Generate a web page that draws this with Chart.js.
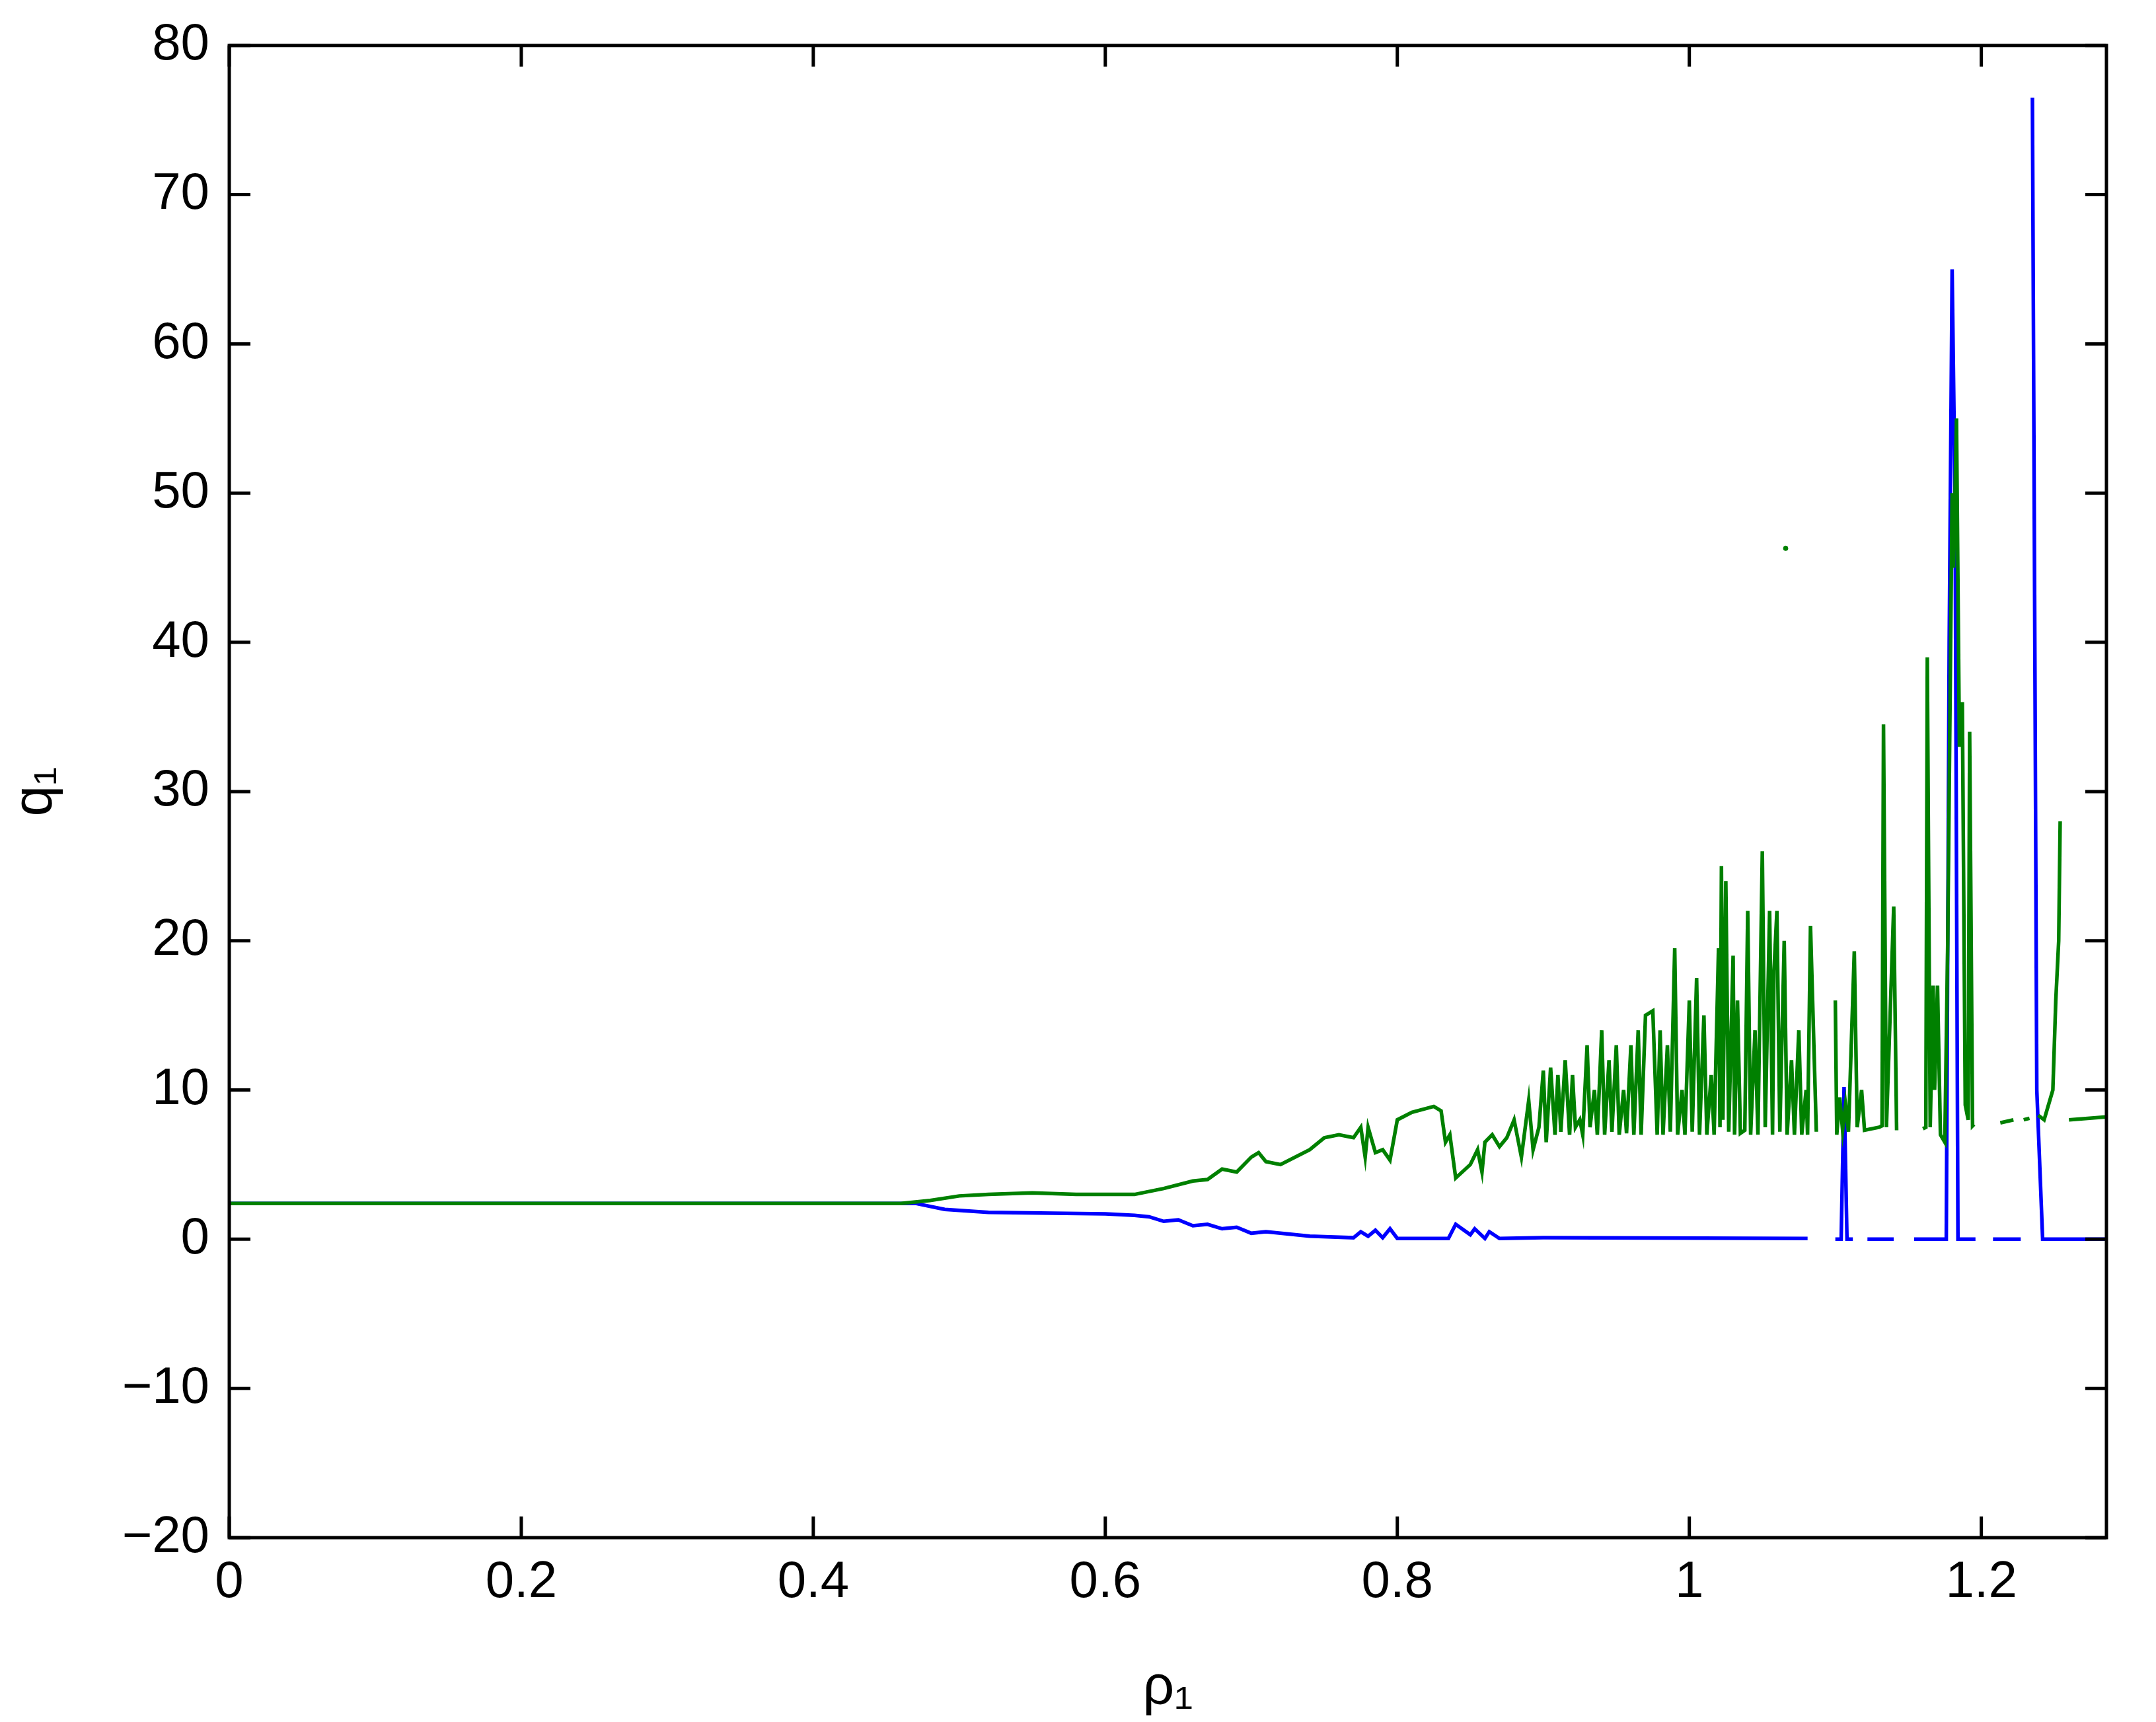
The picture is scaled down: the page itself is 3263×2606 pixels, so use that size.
<!DOCTYPE html>
<html><head><meta charset="utf-8">
<script src="https://cdn.jsdelivr.net/npm/chart.js@4/dist/chart.umd.min.js"></script>
<style>body{margin:0;background:#fff}canvas{display:block}</style>
</head><body><canvas id="c" width="3263" height="2606"></canvas>
<script>
const xTicks=[0,0.2,0.4,0.6,0.8,1,1.2];
const yTicks=[-20,-10,0,10,20,30,40,50,60,70,80];
// [rho1, q1] pairs; null q1 = gap
const greenSeries=[[0,2.4],[0.46,2.4],[0.48,2.6],[0.50,2.9],[0.52,3.0],[0.55,3.1],[0.58,3.0],[0.62,3.0],[0.64,3.4],[0.66,3.9],[0.67,4.0],[0.68,4.7],[0.69,4.5],[0.70,5.5],[0.705,5.8],[0.71,5.2],[0.72,5.0],[0.74,6.0],[0.75,6.8],[0.76,7.0],[0.77,6.8],[0.775,7.5],[0.778,5.5],[0.78,7.5],[0.785,5.8],[0.79,6.0],[0.795,5.3],[0.80,8.0],[0.81,8.5],[0.825,8.9],[0.83,8.6],[0.833,6.5],[0.836,7.0],[0.84,4.1],[0.85,5.0],[0.855,6.0],[0.858,4.5],[0.86,6.5],[0.865,7.0],[0.87,6.2],[0.875,6.8],[0.88,8.0],[0.885,5.5],[0.89,9.3],[0.893,6.0],[0.897,7.5],
[0.90,11.3],[0.902,6.5],[0.905,11.5],[0.908,7.0],[0.91,11],[0.912,7.2],[0.915,12],[0.918,7.0],[0.92,11],[0.922,7.5],[0.925,8],[0.927,7.0],[0.93,13],[0.932,7.5],[0.935,10],[0.937,7.0],[0.94,14],[0.942,7.0],[0.945,12],[0.947,7.2],[0.95,13],[0.952,7.0],[0.955,10],[0.957,7.1],[0.96,13],[0.962,7.0],[0.965,14],[0.967,7.0],[0.97,15],[0.975,15.3],[0.978,7.0],[0.98,14],[0.982,7.0],[0.985,13],[0.987,7.2],[0.99,19.5],[0.992,7.0],[0.995,10],[0.997,7.0],[1.0,16],[1.002,7.2],[1.005,17.5],[1.007,7.0],[1.01,15],[1.012,7.0],[1.015,11],[1.017,7.0],[1.02,19.5],[1.021,7.5],[1.022,25],[1.023,8],[1.025,24],[1.027,7.2],[1.03,19],[1.031,7.0],[1.033,16],[1.035,7.1],[1.038,7.3],[1.04,22],[1.042,7.0],[1.045,14],[1.047,7.0],[1.05,26],[1.052,7.5],[1.055,22],[1.057,7.0],[1.058,18],[1.06,22],[1.062,7.2],[1.065,20],[1.067,7.0],[1.07,12],[1.072,7.0],[1.075,14],[1.077,7.0],[1.08,10],[1.081,7.0],[1.083,21],[1.087,7.2],[1.09,null],
[1.1,16],[1.101,7],[1.103,9.5],[1.105,7.3],[1.107,9],[1.109,7.2],[1.113,19.3],[1.115,7.5],[1.118,10],[1.12,7.3],[1.13,7.5],[1.132,7.6],[1.133,34.5],[1.135,7.5],[1.14,22.3],[1.142,7.3],[1.15,null],
[1.16,7.4],[1.162,7.5],[1.163,39],[1.165,7.5],[1.167,17],[1.168,10],[1.17,17],[1.172,7],[1.175,6.5],[1.177,20],[1.18,50],[1.181,45],[1.183,55],[1.185,33],[1.187,36],[1.189,9],[1.191,8],[1.192,34],[1.194,7.6],[1.195,7.7],[1.205,null],
[1.213,7.8],[1.222,8.0],[1.225,null],[1.229,8.0],[1.233,8.1],[1.236,null],
[1.239,8.3],[1.243,8.0],[1.246,9.0],[1.249,10],[1.251,16],[1.253,20],[1.254,28],[1.256,null],[1.26,8.0],[1.2857,8.2]];
const greenDot=[[1.066,46.3]];
const blueSeries=[[0,2.4],[0.47,2.4],[0.49,2.0],[0.52,1.8],[0.6,1.7],[0.62,1.6],[0.63,1.5],[0.64,1.2],[0.65,1.3],[0.66,0.9],[0.67,1.0],[0.68,0.7],[0.69,0.8],[0.70,0.4],[0.71,0.5],[0.73,0.3],[0.74,0.2],[0.77,0.1],[0.775,0.5],[0.78,0.2],[0.785,0.6],[0.79,0.1],[0.795,0.7],[0.80,0.05],[0.835,0.05],[0.84,1.0],[0.85,0.3],[0.853,0.7],[0.86,0.05],[0.863,0.5],[0.87,0.05],[0.9,0.1],[1.081,0.05],[1.09,null],
[1.1,0],[1.104,0],[1.106,10.2],[1.108,0],[1.112,0],[1.115,null],[1.118,0.1],[1.12,null],[1.122,0],[1.14,0],[1.147,null],[1.154,0],[1.176,0],[1.178,40],[1.18,65],[1.182,50],[1.184,0],[1.196,0],[1.202,null],[1.208,0],[1.227,0],[1.231,null],[1.235,76.5],[1.238,10],[1.242,0],[1.2857,0]];
const pts=a=>a.map(p=>({x:p[0],y:p[1]}));
const F='"Liberation Sans", Arial, sans-serif';
const frame={id:'frame',afterDraw(ch){const c=ch.ctx,a=ch.chartArea,xs=ch.scales.x,ys=ch.scales.y;c.save();c.strokeStyle='#000';c.lineWidth=5;c.strokeRect(a.left,a.top,a.right-a.left,a.bottom-a.top);const L=32;c.beginPath();xTicks.forEach(v=>{const p=xs.getPixelForValue(v);c.moveTo(p,a.bottom);c.lineTo(p,a.bottom-L);c.moveTo(p,a.top);c.lineTo(p,a.top+L);});yTicks.forEach(v=>{const p=ys.getPixelForValue(v);c.moveTo(a.left,p);c.lineTo(a.left+L,p);c.moveTo(a.right,p);c.lineTo(a.right-L,p);});c.stroke();c.restore();}};
new Chart(document.getElementById('c'),{type:'line',
data:{datasets:[
{data:pts(greenSeries),borderColor:'#008000',borderWidth:5.5,pointRadius:0,spanGaps:false,tension:0},
{data:pts(greenDot),borderColor:'#008000',backgroundColor:'#008000',pointRadius:3.5,showLine:false},
{data:pts(blueSeries),borderColor:'#0000ff',borderWidth:5.5,pointRadius:0,spanGaps:false,tension:0}]},
options:{responsive:false,animation:false,devicePixelRatio:1,
layout:{padding:{top:63,right:75,left:0,bottom:0}},
plugins:{legend:{display:false},tooltip:{enabled:false}},
scales:{
x:{type:'linear',min:0,max:1.2857,grid:{display:false},border:{display:false},
afterBuildTicks:s=>{s.ticks=xTicks.map(v=>({value:v}));},
afterFit:s=>{s.height=279;},
ticks:{color:'#000',font:{family:F,size:78},padding:14,callback:v=>String(v)},
title:{display:true,text:'ρ₁',color:'#000',font:{family:F,size:84},padding:{top:-25,bottom:0}}},
y:{type:'linear',min:-20,max:80,grid:{display:false},border:{display:false},
afterBuildTicks:s=>{s.ticks=yTicks.map(v=>({value:v}));},
afterFit:s=>{s.width=347;},
ticks:{color:'#000',font:{family:F,size:78},padding:22,callback:v=>String(v).replace('-','\u2212')},
title:{display:true,text:'q₁',color:'#000',font:{family:F,size:84},padding:{bottom:0}}}}},
plugins:[frame]});
</script></body></html>
